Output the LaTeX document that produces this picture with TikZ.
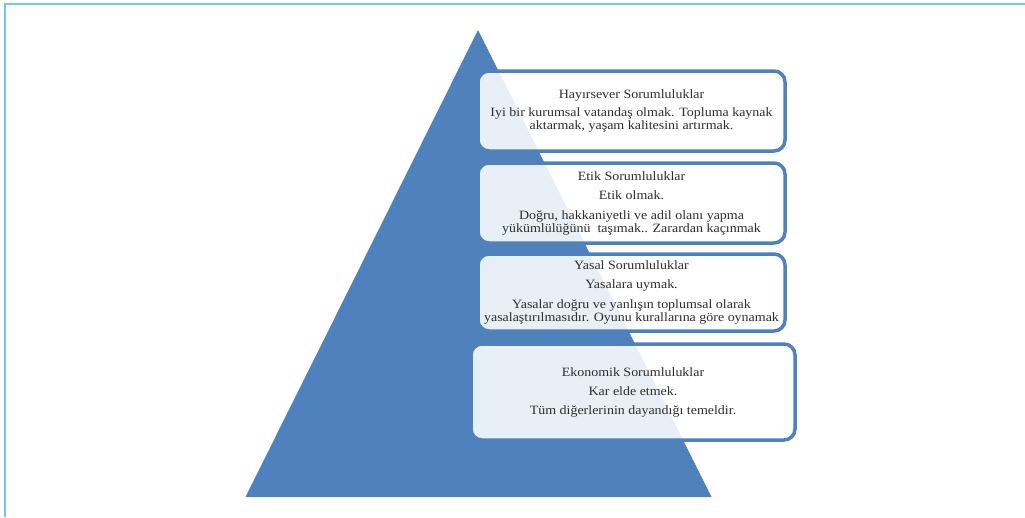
\documentclass[tikz,border=0pt]{standalone}
\usepackage{fontspec}
\setmainfont{Liberation Serif}[FakeStretch=1.1]
\definecolor{triblue}{RGB}{79,129,189}
\definecolor{framecyan}{RGB}{110,200,240}
\definecolor{txtgray}{RGB}{45,45,45}
\tikzset{
  respbox/.style={draw=triblue, line width=3.5pt, rounded corners=11pt,
    fill=white, fill opacity=0.88, text opacity=1, inner sep=0pt,
    align=center, text=txtgray,
    font=\fontsize{12.7pt}{13pt}\selectfont},
}
\begin{document}
\begin{tikzpicture}[x=1pt,y=-1pt]
\useasboundingbox (0,0) rectangle (1025,517);
\draw[framecyan, line width=2pt] (1025,3.5) -- (4.5,3.5) -- (4.5,517);
\fill[triblue] (478,30) -- (711.5,497) -- (245.5,497) -- cycle;
\node[respbox, minimum width=307pt, minimum height=80pt] (hay) at (631.5,111)
  {Hayırsever Sorumluluklar\\[5pt]Iyi bir kurumsal vatandaş olmak. Topluma kaynak\\aktarmak, yaşam kalitesini artırmak.};
\node[respbox, minimum width=307pt, minimum height=80pt] (etik) at (631.5,203)
  {Etik Sorumluluklar\\[6pt]Etik olmak.\\[7pt]Doğru, hakkaniyetli ve adil olanı yapma\\yükümlülüğünü\ \ taşımak.. Zarardan kaçınmak};
\node[respbox, minimum width=307pt, minimum height=77pt] (yasal) at (631.5,292.5)
  {Yasal Sorumluluklar\\[6pt]Yasalara uymak.\\[7pt]Yasalar doğru ve yanlışın toplumsal olarak\\yasalaştırılmasıdır. Oyunu kurallarına göre oynamak};
\node[respbox, minimum width=324pt, minimum height=96pt] (eko) at (633,392)
  {Ekonomik Sorumluluklar\\[6pt]Kar elde etmek.\\[6pt]Tüm diğerlerinin dayandığı temeldir.};
\end{tikzpicture}
\end{document}
